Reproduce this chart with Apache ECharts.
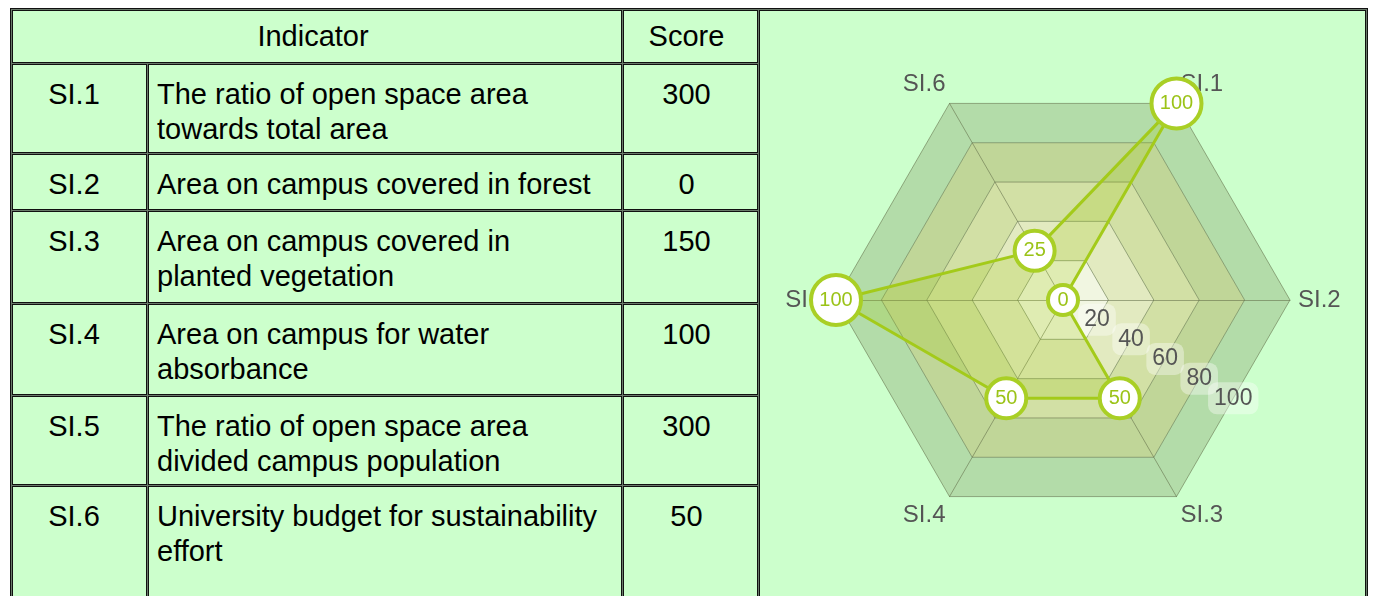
<!DOCTYPE html>
<html>
<head>
<meta charset="utf-8">
<script src="https://cdn.jsdelivr.net/npm/echarts@6/dist/echarts.min.js"></script>
<style>
html, body { margin: 0; padding: 0; background: #fff; width: 1373px; height: 596px; overflow: hidden; }
#wrap { position: relative; width: 1373px; height: 596px; overflow: hidden; }
#grid {
  position: absolute; left: 10px; top: 8px;
  display: grid;
  grid-template-columns: 135px 474px 135px 607px;
  grid-template-rows: 53px 89px 56px 92px 91px 89px 140px;
  gap: 1px; padding: 1px;
  border: 1px solid #111; background: #6a7a6a;
  font-family: 'Liberation Sans', Arial, sans-serif; font-size: 29px; line-height: 35px; color: #000;
}
.cell { background: #ccffcc; border: 1px solid #111; box-sizing: border-box; white-space: pre-line; }
.hdr { display: flex; align-items: center; justify-content: center; padding-right: 8px; }
.code { text-align: center; padding: 12px 11px 0 0; }
.desc { text-align: left; padding: 12px 0 0 8px; }
.score { text-align: center; padding: 12px 8px 0 0; }
#chart { position: absolute; left: 760px; top: 11px; width: 605px; height: 585px; }
</style>
</head>
<body>
<div id="wrap">
  <div id="grid"></div>
  <div id="chart"></div>
</div>
<script>
// ---- data ----
const headerIndicator = 'Indicator';
const headerScore = 'Score';
const codes = ['SI.1', 'SI.2', 'SI.3', 'SI.4', 'SI.5', 'SI.6'];
const descriptions = [
  'The ratio of open space area\ntowards total area',
  'Area on campus covered in forest',
  'Area on campus covered in\nplanted vegetation',
  'Area on campus for water\nabsorbance',
  'The ratio of open space area\ndivided campus population',
  'University budget for sustainability\neffort'
];
const scores = [300, 0, 150, 100, 300, 50];
const radarValues = [100, 0, 50, 50, 100, 25];
const radarMax = 100;
const tickLabels = ['0', '20', '40', '60', '80', '100'];

// ---- table ----
const grid = document.getElementById('grid');
function addCell(text, cls, col, row, colSpan, rowSpan) {
  const d = document.createElement('div');
  d.className = 'cell ' + cls;
  d.textContent = text;
  d.style.gridColumn = col + ' / span ' + (colSpan || 1);
  d.style.gridRow = row + ' / span ' + (rowSpan || 1);
  grid.appendChild(d);
}
addCell(headerIndicator, 'hdr', 1, 1, 2, 1);
addCell(headerScore, 'hdr', 3, 1, 1, 1);
addCell('', 'chartcell', 4, 1, 1, codes.length + 1);
codes.forEach((c, i) => {
  addCell(c, 'code', 1, i + 2);
  addCell(descriptions[i], 'desc', 2, i + 2);
  addCell(String(scores[i]), 'score', 3, i + 2);
});

// ---- chart ----
const chart = echarts.init(document.getElementById('chart'), null, { renderer: 'canvas' });
// radar indicators placed counter-clockwise from startAngle: SI.1, SI.6, SI.5, SI.4, SI.3, SI.2
const order = [0, 5, 4, 3, 2, 1];
const C = [303, 289];
const R = 227;
const gridLine = 'rgba(95,105,70,0.55)';
const font = 'Liberation Sans, Arial, sans-serif';
const option = {
  animation: false,
  radar: {
    center: C,
    radius: R,
    startAngle: 60,
    splitNumber: tickLabels.length - 1,
    shape: 'polygon',
    indicator: order.map(i => ({ name: codes[i], min: 0, max: radarMax })),
    axisName: { show: false },
    splitLine: { lineStyle: { color: gridLine, width: 1 } },
    axisLine: { lineStyle: { color: gridLine, width: 1 } },
    splitArea: { areaStyle: { color: ['#f1f6e1', '#e2eac0', '#d2e0a5', '#c0d698', '#b3dca9'] } }
  },
  polar: [
    { center: C, radius: R * Math.cos(Math.PI / 6) },
    { center: C, radius: R }
  ],
  angleAxis: [
    { polarIndex: 0, type: 'value', min: 0, max: 360, startAngle: -30, show: false },
    {
      polarIndex: 1, type: 'category', data: codes, startAngle: 60, clockwise: true, boundaryGap: false,
      show: true, z: 1,
      axisLine: { show: false }, axisTick: { show: false }, splitLine: { show: false }, splitArea: { show: false },
      axisLabel: { show: true, margin: 8, color: '#555', fontSize: 24, fontFamily: font }
    }
  ],
  radiusAxis: [
    {
      polarIndex: 0, type: 'category', data: tickLabels, boundaryGap: false, z: 2,
      axisLine: { show: false }, axisTick: { show: false }, splitLine: { show: false },
      axisLabel: {
        show: true, interval: 0, margin: 0, align: 'center', verticalAlign: 'middle',
        formatter: v => (v === tickLabels[0] ? '' : v),
        color: '#555', fontSize: 23, fontFamily: font,
        backgroundColor: 'rgba(255,255,255,0.38)', borderRadius: 9, padding: [5, 6, 4, 6]
      }
    },
    { polarIndex: 1, type: 'value', min: 0, max: radarMax, show: false }
  ],
  series: [
    {
      type: 'radar', z: 3,
      symbol: 'none',
      lineStyle: { color: '#a4cb1c', width: 3 },
      areaStyle: { color: 'rgba(160,200,20,0.32)' },
      data: [{ value: order.map(i => radarValues[i]) }]
    },
    {
      type: 'scatter', coordinateSystem: 'polar', polarIndex: 1, z: 5,
      symbol: 'circle',
      symbolSize: v => { const n = String(v[0]).length; return n >= 3 ? 50 : (n === 2 ? 40 : 30); },
      itemStyle: { color: '#ffffff', borderColor: '#a9cf25', borderWidth: 4, opacity: 1 },
      label: {
        show: true, position: 'inside', formatter: p => String(p.value[0]),
        color: '#9bc318', fontSize: 20, fontFamily: font
      },
      data: codes.map((c, i) => [radarValues[i], c])
    }
  ]
};
chart.setOption(option);
</script>
</body>
</html>
